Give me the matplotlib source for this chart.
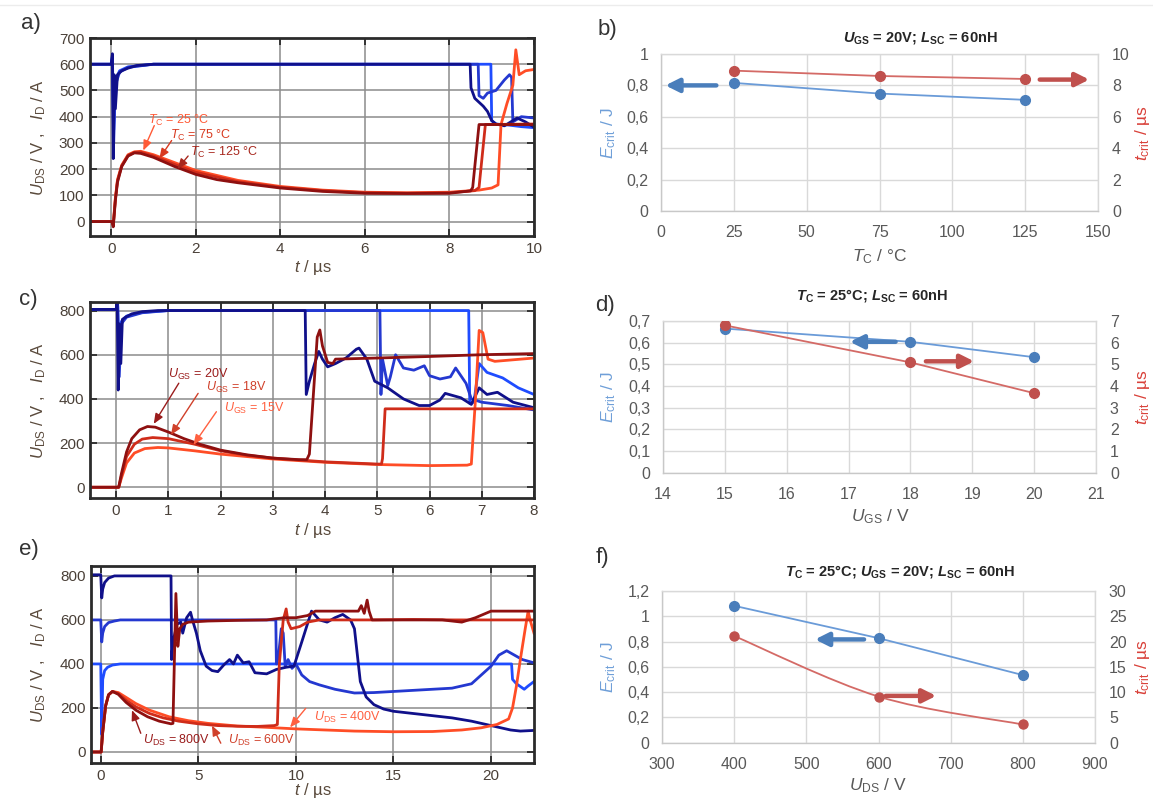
import numpy as np
import matplotlib
matplotlib.use('Agg')
import matplotlib.pyplot as plt
from matplotlib.path import Path
from matplotlib.patches import PathPatch
from matplotlib.lines import Line2D

plt.rcParams['font.family'] = ['Liberation Sans', 'DejaVu Sans']
plt.rcParams['mathtext.fontset'] = 'custom'
plt.rcParams['mathtext.rm'] = 'Liberation Sans'
plt.rcParams['mathtext.it'] = 'Liberation Sans:italic'
plt.rcParams['mathtext.bf'] = 'Liberation Sans:bold'
plt.rcParams['mathtext.bfit'] = 'Liberation Sans:bold:italic'

# ---------------- Panel a: T_C variation (U_DS = 600 V) ----------------
ta_u125 = [-0.5, 0.0, 0.03, 0.05, 0.07, 0.1, 0.15, 0.25, 0.4, 0.6, 1.0, 8.49, 8.51, 8.6, 8.7, 8.8, 8.9, 9.0, 9.1, 9.3, 9.6, 9.8, 10.0]
ua_125 = [600, 600, 640, 240, 560, 430, 560, 575, 585, 595, 600, 600, 510, 470, 455, 440, 420, 385, 372, 365, 395, 380, 360]
ta_u75 = [-0.5, 0.0, 0.03, 0.06, 0.1, 0.2, 0.4, 1.0, 8.68, 8.7, 8.8, 8.9, 9.1, 9.3, 9.42, 9.47, 9.5, 9.7, 10.0]
ua_75 = [600, 600, 620, 300, 520, 570, 588, 600, 600, 480, 470, 490, 500, 540, 560, 550, 380, 400, 395]
ta_u25 = [-0.5, 0.0, 0.03, 0.06, 0.1, 0.2, 0.4, 1.0, 8.98, 9.0, 9.1, 9.4, 9.7, 10.0]
ua_25 = [600, 600, 630, 350, 540, 575, 590, 600, 600, 385, 372, 368, 362, 358]

ta_i125 = [-0.5, 0.02, 0.05, 0.1, 0.15, 0.25, 0.4, 0.55, 0.7, 1.0, 1.5, 2.0, 2.5, 3.0, 4.0, 5.0, 6.0, 7.0, 8.0, 8.5, 8.55, 8.7, 10.0]
ia_125 = [0, 0, -20, 80, 150, 210, 250, 262, 260, 245, 210, 180, 160, 148, 128, 115, 108, 107, 108, 117, 130, 370, 370]
ta_i75 = [-0.5, 0.02, 0.05, 0.1, 0.15, 0.25, 0.4, 0.55, 0.7, 1.0, 1.5, 2.0, 3.0, 4.0, 5.0, 6.0, 7.0, 8.0, 8.6, 8.7, 8.85, 10.0]
ia_75 = [0, 0, -15, 85, 155, 212, 252, 264, 265, 250, 218, 188, 152, 131, 118, 110, 108, 110, 118, 130, 370, 372]
ta_i25 = [-0.5, 0.02, 0.05, 0.1, 0.15, 0.25, 0.4, 0.55, 0.7, 1.0, 1.5, 2.0, 3.0, 4.0, 5.0, 6.0, 7.0, 8.0, 8.7, 9.0, 9.15, 9.22, 9.36, 9.5, 9.57, 9.65, 9.8, 10.0]
ia_25 = [0, 0, -10, 90, 160, 215, 255, 266, 268, 255, 225, 195, 157, 134, 120, 112, 110, 112, 120, 128, 140, 370, 450, 520, 655, 560, 575, 580]

# ---------------- Panel c: U_GS variation (U_DS = 800 V) ----------------
tc_u20 = [-0.5, 0.0, 0.02, 0.04, 0.06, 0.09, 0.12, 0.18, 0.3, 0.5, 0.8, 1.2, 3.62, 3.64, 3.7, 3.8, 3.88, 3.95, 4.05, 4.2, 4.4, 4.6, 4.65, 4.8, 4.95, 5.2, 5.5, 5.8, 6.0, 6.2, 6.3, 6.6, 6.8, 6.95, 7.1, 7.3, 7.6, 8.0]
uc_20 = [805, 805, 840, 440, 740, 560, 760, 770, 785, 795, 800, 800, 800, 420, 480, 560, 615, 580, 545, 560, 585, 625, 630, 580, 480, 450, 400, 370, 370, 395, 425, 405, 375, 450, 420, 430, 385, 360]
tc_u18 = [-0.5, 0.0, 0.03, 0.06, 0.1, 0.2, 0.5, 1.0, 5.05, 5.07, 5.1, 5.2, 5.25, 5.35, 5.5, 5.7, 5.9, 6.0, 6.2, 6.4, 6.5, 6.7, 6.8, 7.0, 7.5, 8.0]
uc_18 = [805, 805, 830, 500, 740, 770, 790, 800, 800, 420, 580, 460, 500, 600, 540, 530, 550, 505, 490, 500, 540, 470, 400, 385, 370, 350]
tc_u15 = [-0.5, 0.0, 0.03, 0.06, 0.1, 0.2, 0.5, 1.0, 6.75, 6.77, 6.85, 6.95, 7.1, 7.4, 7.7, 8.0]
uc_15 = [805, 805, 820, 560, 750, 775, 792, 800, 800, 380, 385, 560, 520, 495, 450, 420]

tc_i20 = [-0.5, 0.05, 0.1, 0.2, 0.3, 0.45, 0.6, 0.75, 1.0, 1.3, 1.6, 2.0, 2.5, 3.0, 3.5, 3.65, 3.7, 3.85, 3.9, 3.95, 4.05, 4.15, 4.2, 5.0, 6.0, 7.0, 8.0]
ic_20 = [0, 0, 60, 160, 220, 260, 275, 272, 250, 220, 195, 168, 147, 132, 125, 125, 150, 680, 712, 640, 565, 560, 580, 585, 592, 600, 605]
tc_i18 = [-0.5, 0.05, 0.1, 0.2, 0.35, 0.5, 0.7, 1.0, 1.5, 2.0, 2.5, 3.0, 4.0, 5.0, 5.08, 5.1, 5.15, 8.0]
ic_18 = [0, 0, 50, 140, 195, 218, 225, 220, 195, 165, 145, 132, 115, 105, 105, 130, 355, 355]
tc_i15 = [-0.5, 0.05, 0.1, 0.2, 0.35, 0.55, 0.8, 1.0, 1.5, 2.0, 3.0, 4.0, 5.0, 6.0, 6.72, 6.8, 6.88, 6.95, 7.02, 7.12, 7.25, 8.0]
ic_15 = [0, 0, 40, 110, 155, 175, 180, 178, 165, 150, 128, 113, 103, 98, 100, 105, 400, 710, 700, 580, 570, 585]

# ---------------- Panel e: U_DS variation (U_GS = 20 V) ----------------
te_u800 = [-0.5, 0.0, 0.05, 0.1, 0.2, 0.4, 0.7, 1.0, 3.6, 3.63, 3.7, 3.9, 4.1, 4.2, 4.4, 4.6, 4.7, 4.9, 5.1, 5.4, 5.7, 6.0, 6.3, 6.6, 6.8, 7.0, 7.3, 7.6, 7.9, 8.5, 9.0, 9.5, 9.9, 10.3, 10.8, 11.2, 11.6, 12.0, 12.4, 12.8, 13.0, 13.3, 13.6, 14.0, 14.5, 15.0, 16.0, 17.0, 18.0, 19.0, 20.0, 20.5, 21.0, 21.5, 22.2]
ue_800 = [805, 805, 700, 740, 770, 790, 800, 800, 800, 420, 500, 580, 590, 540, 610, 635, 600, 540, 460, 390, 370, 365, 395, 420, 400, 440, 405, 410, 360, 355, 375, 385, 390, 500, 640, 600, 590, 610, 625, 600, 560, 320, 250, 215, 195, 185, 175, 165, 155, 140, 120, 110, 100, 95, 98]
te_u600 = [-0.5, 0.0, 0.05, 0.1, 0.2, 0.4, 0.7, 1.0, 8.97, 9.0, 9.1, 9.25, 9.35, 9.45, 9.6, 9.8, 10.0, 10.3, 10.7, 11.2, 12.0, 13.0, 14.0, 15.0, 16.0, 17.0, 18.0, 19.0, 19.5, 20.0, 20.4, 20.8, 21.2, 21.6, 22.2]
ue_600 = [600, 600, 500, 540, 570, 588, 595, 600, 600, 400, 430, 560, 540, 390, 420, 380, 400, 350, 320, 305, 285, 268, 270, 275, 280, 285, 290, 310, 350, 390, 440, 460, 440, 420, 405]
te_u400 = [-0.5, 0.0, 0.05, 0.1, 0.2, 0.35, 0.6, 1.0, 21.05, 21.1, 21.3, 21.7, 21.9, 22.2]
ue_400 = [400, 400, 80, 330, 370, 385, 395, 400, 400, 330, 310, 285, 300, 320]

te_i800 = [-0.5, 0.02, 0.1, 0.25, 0.4, 0.6, 0.9, 1.3, 1.8, 2.4, 3.0, 3.6, 3.7, 3.85, 3.95, 4.05, 4.2, 4.5, 5.5, 7.0, 8.5, 9.4, 10.0, 10.6, 11.0, 13.2, 13.35, 13.5, 13.65, 13.75, 13.9, 14.5, 16.0, 17.5, 18.5, 19.2, 20.0, 22.2]
ie_800 = [0, 0, 90, 210, 260, 275, 262, 225, 190, 160, 140, 128, 130, 720, 480, 560, 580, 590, 595, 598, 600, 610, 610, 620, 640, 640, 665, 630, 690, 640, 600, 600, 600, 600, 590, 610, 640, 640]
te_i600 = [-0.5, 0.02, 0.1, 0.25, 0.4, 0.6, 0.9, 1.3, 1.8, 2.5, 3.2, 4.0, 5.0, 6.0, 7.0, 8.0, 8.9, 9.05, 9.15, 9.35, 9.5, 9.6, 9.75, 10.2, 10.6, 11.2, 12.0, 14.0, 16.0, 18.0, 22.2]
ie_600 = [0, 0, 90, 210, 260, 275, 265, 235, 205, 175, 155, 140, 128, 120, 117, 116, 120, 125, 400, 600, 650, 590, 560, 570, 590, 600, 600, 600, 602, 600, 600]
te_i400 = [-0.5, 0.02, 0.1, 0.25, 0.4, 0.6, 0.9, 1.3, 1.8, 2.5, 3.5, 4.5, 5.5, 7.0, 8.5, 10.0, 11.5, 13.0, 15.0, 17.0, 18.5, 19.5, 20.3, 20.9, 21.1, 21.3, 21.5, 21.75, 21.9, 22.0, 22.2]
ie_400 = [0, 0, 90, 210, 260, 275, 270, 248, 220, 190, 160, 142, 130, 118, 112, 105, 100, 95, 92, 93, 100, 110, 125, 150, 200, 300, 420, 560, 640, 600, 540]

# ---------------- Panels b, d, f: critical energy / time ----------------
b_tc = [25, 75, 125]
b_ecrit = [0.816, 0.748, 0.708]
b_tcrit = [8.94, 8.6, 8.41]

d_ugs = [15, 18, 20]
d_ecrit = [0.665, 0.604, 0.533]
d_tcrit = [6.8, 5.09, 3.67]

f_uds = [400, 600, 800]
f_ecrit = [1.083, 0.827, 0.535]
f_tcrit = [21.1, 9.13, 3.6]

b_xticks = [0, 25, 50, 75, 100, 125, 150]
b_yticks = [0, 0.2, 0.4, 0.6, 0.8, 1.0]
b_ylabels = ['0', '0,2', '0,4', '0,6', '0,8', '1']
b_y2ticks = [0, 2, 4, 6, 8, 10]
d_xticks = [14, 15, 16, 17, 18, 19, 20, 21]
d_yticks = [0, 0.1, 0.2, 0.3, 0.4, 0.5, 0.6, 0.7]
d_ylabels = ['0', '0,1', '0,2', '0,3', '0,4', '0,5', '0,6', '0,7']
d_y2ticks = [0, 1, 2, 3, 4, 5, 6, 7]
f_xticks = [300, 400, 500, 600, 700, 800, 900]
f_yticks = [0, 0.2, 0.4, 0.6, 0.8, 1.0, 1.2]
f_ylabels = ['0', '0,2', '0,4', '0,6', '0,8', '1', '1,2']
f_y2ticks = [0, 5, 10, 15, 20, 25, 30]

# ---------------- figure ----------------
W, H = 1153, 802
fig = plt.figure(figsize=(W / 100, H / 100), dpi=100)


def rect(l, t, r, b):
    return [l / W, 1 - b / H, (r - l) / W, (b - t) / H]


def P(x, y):
    return (x / W, 1 - y / H)


fig.add_artist(Line2D([0.0, 1.0], [1 - 5 / H, 1 - 5 / H], color='#ececec', lw=1))

NAVY, MBLUE, BBLUE = '#10108a', '#2438d0', '#1f4cff'
DRED, MRED, ORED = '#8e1010', '#cf2c1a', '#ff4d26'
TICKC = '#4a4038'
LABC = '#5a4a3c'


def wave_axes(r, xlim, ylim, xticks, yticks):
    ax = fig.add_axes(r)
    ax.set_xlim(xlim)
    ax.set_ylim(ylim)
    ax.set_xticks(xticks)
    ax.set_yticks(yticks)
    ax.grid(True, color='#8c8c8c', lw=1.1)
    ax.set_axisbelow(True)
    for s in ax.spines.values():
        s.set_linewidth(2.0)
        s.set_color('#2b2b2b')
    ax.tick_params(direction='in', top=True, right=True, length=5, width=1.3,
                   color='#2b2b2b', labelsize=11, labelcolor=TICKC, pad=4)
    return ax


def tr(ax, t, v, c, z=2):
    ax.plot(t, v, color=c, lw=2.0, zorder=z, solid_joinstyle='round')


def note(ax, txt, pos, tail, head, c, fs=9):
    ax.text(pos[0], pos[1], txt, color=c, fontsize=fs, ha='left', va='center', zorder=6)
    ax.annotate('', xy=head, xytext=tail,
                arrowprops=dict(arrowstyle='-|>,head_width=0.25,head_length=0.6',
                                color=c, lw=1.0, shrinkA=0, shrinkB=0), zorder=6)


# ---- a ----
axa = wave_axes(rect(90, 38, 534, 236), (-0.5, 10), (-55, 700), range(0, 11, 2), range(0, 701, 100))
tr(axa, ta_u25, ua_25, BBLUE)
tr(axa, ta_u75, ua_75, MBLUE)
tr(axa, ta_u125, ua_125, NAVY)
tr(axa, ta_i25, ia_25, ORED)
tr(axa, ta_i75, ia_75, MRED)
tr(axa, ta_i125, ia_125, DRED)
note(axa, r'$T_\mathrm{C}$ = 25 °C', (0.88, 385), (1.02, 366), (0.76, 271), '#ff5a36')
note(axa, r'$T_\mathrm{C}$ = 75 °C', (1.4, 328), (1.43, 309), (1.14, 240), '#d83a20')
note(axa, r'$T_\mathrm{C}$ = 125 °C', (1.86, 264), (1.82, 250), (1.57, 201), '#a8281e')

# ---- c ----
axc = wave_axes(rect(90, 301.7, 534, 498.3), (-0.5, 8), (-50, 840), range(0, 9), range(0, 801, 200))
tr(axc, tc_u15, uc_15, BBLUE)
tr(axc, tc_u18, uc_18, MBLUE)
tr(axc, tc_u20, uc_20, NAVY)
tr(axc, tc_i15, ic_15, ORED)
tr(axc, tc_i18, ic_18, MRED)
tr(axc, tc_i20, ic_20, DRED)
note(axc, r'$U_\mathrm{GS}$ = 20V', (1.0, 509), (1.2, 471), (0.72, 287), '#9a1c1c')
note(axc, r'$U_\mathrm{GS}$ = 18V', (1.73, 453), (1.57, 425), (1.05, 237), '#d0402a')
note(axc, r'$U_\mathrm{GS}$ = 15V', (2.06, 358), (1.92, 342), (1.48, 192), '#ff6040')

# ---- e ----
axe = wave_axes(rect(91, 566, 534, 763), (-0.5, 22.2), (-50, 845), range(0, 21, 5), range(0, 801, 200))
tr(axe, te_u400, ue_400, BBLUE)
tr(axe, te_u600, ue_600, MBLUE)
tr(axe, te_u800, ue_800, NAVY)
tr(axe, te_i400, ie_400, ORED)
tr(axe, te_i600, ie_600, MRED)
tr(axe, te_i800, ie_800, DRED)
note(axe, r'$U_\mathrm{DS}$ = 800V', (2.15, 53), (2.05, 85), (1.6, 190), '#9a1c1c')
note(axe, r'$U_\mathrm{DS}$ = 600V', (6.5, 53), (6.15, 40), (5.7, 120), '#d0402a')
note(axe, r'$U_\mathrm{DS}$ = 400V', (10.95, 158), (10.5, 198), (9.7, 112), '#ff6040')

for yc, xl in [(137, 267), (400, 530), (664, 790)]:
    fig.text(*P(39, yc), r'$U_\mathrm{DS}$ / V ,   $I_\mathrm{D}$ / A', rotation=90,
             ha='center', va='center', fontsize=12, color=LABC)
    fig.text(*P(313, xl), r'$t$ / µs', ha='center', va='center', fontsize=12, color=LABC)

# ---------------- Excel style panels ----------------
BL_LINE, BL_MK = '#6a9bd8', '#4a7ebb'
RD_LINE, RD_MK = '#d46a66', '#c0504d'
GRAY = '#595959'


def excel_axes(r, xlim, xticks, ylim, yticks, ylabels, y2lim, y2ticks):
    ax = fig.add_axes(r)
    ax.set_xlim(xlim)
    ax.set_ylim(ylim)
    ax.set_xticks(xticks)
    ax.set_yticks(yticks)
    ax.set_yticklabels(ylabels)
    ax.grid(True, color='#d9d9d9', lw=1.0)
    ax.set_axisbelow(True)
    for k, s in ax.spines.items():
        s.set_color('#d9d9d9')
        s.set_linewidth(1.0)
    ax.spines['left'].set_color('#c8c8c8')
    ax.spines['bottom'].set_color('#c8c8c8')
    ax.tick_params(length=0, labelsize=11.5, labelcolor=GRAY, pad=9)
    ax.tick_params(axis='x', pad=10)
    ax2 = ax.twinx()
    ax2.set_ylim(y2lim)
    ax2.set_yticks(y2ticks)
    for s in ax2.spines.values():
        s.set_visible(False)
    ax2.tick_params(length=0, labelsize=11.5, labelcolor=GRAY, pad=10)
    return ax, ax2


def arrow(ax, tail, head, c):
    ax.annotate('', xy=head, xytext=tail,
                arrowprops=dict(arrowstyle='-|>,head_width=0.4,head_length=0.8',
                                color=c, lw=3.2, shrinkA=0, shrinkB=0), zorder=5)


def series(ax, x, y, lc, mc, ms=7, line=True):
    ax.plot(x, y, '-' if line else 'none', color=lc, lw=1.3, zorder=3)
    ax.plot(x, y, 'o', color=mc, ms=ms, zorder=4)


# ---- b ----
axb, axb2 = excel_axes(rect(661, 54, 1098, 211), (0, 150), b_xticks, (0, 1), b_yticks, b_ylabels, (0, 10), b_y2ticks)
series(axb, b_tc, b_ecrit, BL_LINE, BL_MK)
series(axb2, b_tc, b_tcrit, RD_LINE, RD_MK)
arrow(axb, (19, 0.8), (1.5, 0.8), BL_MK)
arrow(axb2, (130, 8.37), (147, 8.37), RD_MK)

# ---- d ----
axd, axd2 = excel_axes(rect(663, 321, 1096, 472.7), (14, 21), d_xticks, (0, 0.7), d_yticks, d_ylabels, (0, 7), d_y2ticks)
series(axd, d_ugs, d_ecrit, BL_LINE, BL_MK)
series(axd2, d_ugs, d_tcrit, RD_LINE, RD_MK)
arrow(axd, (17.76, 0.604), (17.02, 0.604), BL_MK)
arrow(axd2, (18.25, 5.14), (19.03, 5.14), RD_MK)

# ---- f ----
axf, axf2 = excel_axes(rect(662, 591, 1095, 742.7), (300, 900), f_xticks, (0, 1.2), f_yticks, f_ylabels, (0, 30), f_y2ticks)
series(axf, f_uds, f_ecrit, BL_LINE, BL_MK)
# smoothed (Excel-like) red line through the data points
px = np.array(f_uds, float)
py = np.array(f_tcrit, float)
pts = np.column_stack([px, py])
ext = np.vstack([pts[0], pts, pts[-1]])
verts = [tuple(pts[0])]
codes = [Path.MOVETO]
for i in range(len(pts) - 1):
    p0, p1, p2, p3 = ext[i], ext[i + 1], ext[i + 2], ext[i + 3]
    c1 = p1 + (p2 - p0) / 6.0
    c2 = p2 - (p3 - p1) / 6.0
    verts += [tuple(c1), tuple(c2), tuple(p2)]
    codes += [Path.CURVE4] * 3
axf2.add_patch(PathPatch(Path(verts, codes), fill=False, edgecolor=RD_LINE, lw=1.3, zorder=3))
axf2.plot(f_uds, f_tcrit, 'o', color=RD_MK, ms=6.5, zorder=4)
arrow(axf, (580, 0.817), (512, 0.817), BL_MK)
arrow(axf2, (610, 9.26), (680, 9.26), RD_MK)

# axis labels of Excel panels
ECOL, TCOL = '#6f9fd8', '#d9413a'
for yc in [(54 + 211) / 2, (321 + 472.7) / 2, (591 + 742.7) / 2]:
    fig.text(*P(609, yc), r'$E_\mathrm{crit}$ / J', rotation=90, ha='center', va='center', fontsize=12.5, color=ECOL)
    fig.text(*P(1143, yc), r'$t_\mathrm{crit}$ / µs', rotation=90, ha='center', va='center', fontsize=12.5, color=TCOL)
fig.text(*P(880, 257), r'$T_\mathrm{C}$ / °C', ha='center', va='center', fontsize=12.5, color=GRAY)
fig.text(*P(880, 517), r'$U_\mathrm{GS}$ / V', ha='center', va='center', fontsize=12.5, color=GRAY)
fig.text(*P(878, 786), r'$U_\mathrm{DS}$ / V', ha='center', va='center', fontsize=12.5, color=GRAY)

# titles
TT = '#262626'
fig.text(*P(920, 38), r'$\mathbfit{U}_\mathbf{GS}$ = 20V; $\mathbfit{L}_\mathbf{SC}$ = 60nH',
         ha='center', va='center', fontsize=10.5, fontweight='bold', color=TT)
fig.text(*P(872, 295), r'$\mathbfit{T}_\mathbf{C}$ = 25°C; $\mathbfit{L}_\mathbf{SC}$ = 60nH',
         ha='center', va='center', fontsize=10.5, fontweight='bold', color=TT)
fig.text(*P(900, 571), r'$\mathbfit{T}_\mathbf{C}$ = 25°C; $\mathbfit{U}_\mathbf{GS}$ = 20V; $\mathbfit{L}_\mathbf{SC}$ = 60nH',
         ha='center', va='center', fontsize=10.5, fontweight='bold', color=TT)

# panel letters
for lab, x, y in [('a)', 31, 23), ('b)', 607, 30), ('c)', 28, 300), ('d)', 605, 305), ('e)', 29, 550), ('f)', 602, 558)]:
    fig.text(*P(x, y), lab, ha='center', va='center', fontsize=16, color='#333333')

fig.savefig('out.png', dpi=100)
